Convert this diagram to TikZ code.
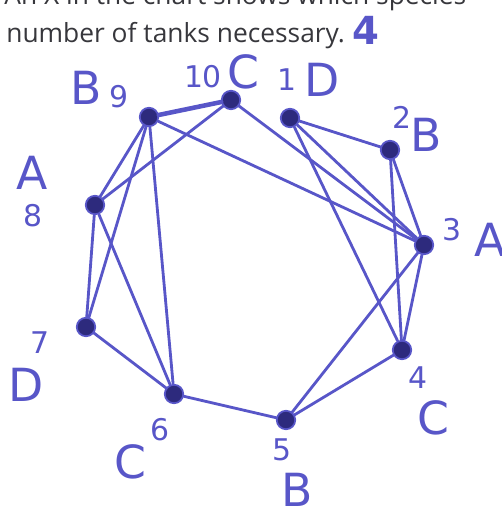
\documentclass[tikz,border=0pt]{standalone}
\usepackage{fontspec}
\setmainfont{Open Sans}
\newfontfamily\handfont{DejaVu Sans}
\usepackage{tikz}

\definecolor{ink}{RGB}{88,86,200}
\definecolor{dotink}{RGB}{45,42,125}
\definecolor{print}{RGB}{55,55,60}

\tikzset{
  vert/.style={circle,fill=dotink,draw=ink,line width=1pt,inner sep=0pt,minimum size=10.5pt},
  edge/.style={ink,line width=1.6pt,line cap=round},
  big/.style={text=ink,font=\handfont\fontsize{26}{26}\selectfont,inner sep=0pt},
  num/.style={text=ink,font=\handfont\fontsize{17}{17}\selectfont,inner sep=0pt},
  printtext/.style={text=print,font=\fontsize{15}{15}\selectfont,anchor=base west,inner sep=0pt}
}

\begin{document}
\begin{tikzpicture}[x=0.02cm,y=-0.02cm]
    \clip (0,0) rectangle (502,513);

    % Question text (cut off at the top)
    \node[printtext] (line1) at (4,5) {An X in the chart shows which species};
    \node[printtext] (line2) at (6,43) {number of tanks necessary.};
    \node[num,font=\handfont\bfseries\fontsize{22}{22}\selectfont] (four) at (366,30) {4};

    % Vertices
    \node[vert] (v1) at (290,118) {};
    \node[vert] (v2) at (390,150) {};
    \node[vert] (v3) at (424,245) {};
    \node[vert] (v4) at (402,350) {};
    \node[vert] (v5) at (286,420) {};
    \node[vert] (v6) at (174,394) {};
    \node[vert] (v7) at (86,327) {};
    \node[vert] (v8) at (95,205) {};
    \node[vert] (v9) at (149,117) {};
    \node[vert] (v10) at (231,100) {};

    % Edges
    \draw[edge,line width=2.6pt] (v9) -- (v10);
    \draw[edge] (v9) -- (v8);
    \draw[edge] (v9) -- (v7);
    \draw[edge] (v9) -- (v6);
    \draw[edge] (v9) -- (v3);
    \draw[edge] (v10) -- (v8);
    \draw[edge] (v10) -- (v3);
    \draw[edge] (v1) -- (v2);
    \draw[edge] (v1) -- (v3);
    \draw[edge] (v1) -- (v4);
    \draw[edge] (v2) -- (v3);
    \draw[edge] (v2) -- (v4);
    \draw[edge] (v3) -- (v4);
    \draw[edge] (v3) -- (v5);
    \draw[edge] (v4) -- (v5);
    \draw[edge] (v5) -- (v6);
    \draw[edge] (v6) -- (v7);
    \draw[edge] (v6) -- (v8);
    \draw[edge] (v7) -- (v8);

    % Vertex labels
    \node[num] (n1) at (287,80) {1};
    \node[big] (l1) at (322,80) {D};
    \node[num] (n2) at (402,117) {2};
    \node[big] (l2) at (426,135) {B};
    \node[num] (n3) at (452,230) {3};
    \node[big] (l3) at (490,240) {A};
    \node[num] (n4) at (418,378) {4};
    \node[big] (l4) at (433,418) {C};
    \node[num] (n5) at (282,450) {5};
    \node[big] (l5) at (297,490) {B};
    \node[num] (n6) at (160,430) {6};
    \node[big] (l6) at (130,462) {C};
    \node[num] (n7) at (40,343) {7};
    \node[big] (l7) at (26,385) {D};
    \node[big] (l8) at (32,173) {A};
    \node[num] (n8) at (33,216) {8};
    \node[big] (l9) at (86,88) {B};
    \node[num] (n9) at (119,97) {9};
    \node[num] (n10) at (203,77) {10};
    \node[big] (l10) at (243,72) {C};
\end{tikzpicture}
\end{document}
